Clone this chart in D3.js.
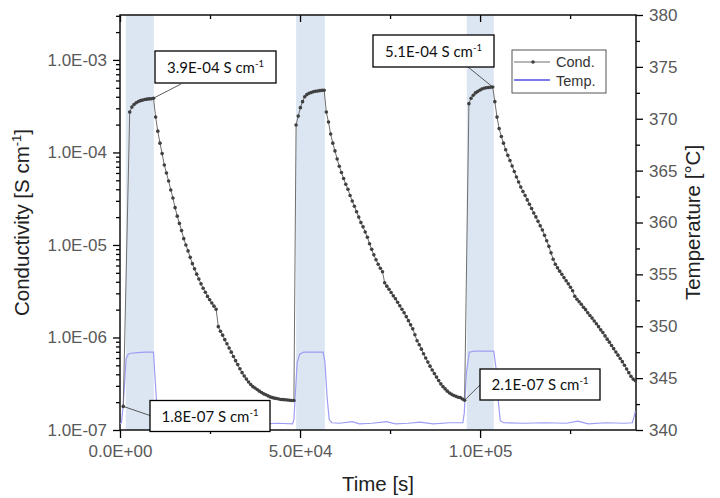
<!DOCTYPE html>
<html>
<head>
<meta charset="utf-8">
<script src="https://cdn.jsdelivr.net/npm/d3@7/dist/d3.min.js"></script>
<style>
    body { margin: 0; background: #fff; }
    svg { display: block; }
    .tick text { font-family: "Liberation Sans", Arial, sans-serif; font-size: 17px; fill: #595959; }
    .tick line { stroke: #000; stroke-width: 1.3px; }
    .title { font-family: "Liberation Sans", Arial, sans-serif; font-size: 20.5px; fill: #222; }
    .anno { font-family: Lato, "Open Sans", sans-serif; font-size: 15px; fill: #111; }
    .legend { font-family: "Liberation Sans", Arial, sans-serif; font-size: 14.5px; fill: #333; }
</style>
</head>
<body>
<div id="chart"></div>
<script>
(function () {

    var width = 720,
        height = 498,
        left = 120, right = 636, top = 15, bottom = 430;

    // conductivity, one reading every condStep seconds from condStart (null = no point)
    var condStart = 900,
        condStep = 600;
    var condValues = [
        1.8e-7, null, null, 2.73e-4, 3.09e-4, 3.30e-4, 3.44e-4, 3.55e-4, 3.63e-4, 3.68e-4,
        3.73e-4, 3.77e-4, 3.79e-4, 3.81e-4, 3.86e-4,
        2.41e-4, 1.70e-4, 1.26e-4, 9.72e-5, 7.31e-5, 6.00e-5, 4.91e-5, 3.93e-5, 3.22e-5, 2.53e-5,
        2.05e-5, 1.71e-5, 1.43e-5, 1.17e-5, 1.00e-5, 8.63e-6, 7.35e-6, 6.28e-6, 5.52e-6, 4.84e-6,
        4.28e-6, 3.80e-6, 3.40e-6, 3.08e-6, 2.78e-6, 2.56e-6, 2.36e-6, 2.18e-6, 2.02e-6,
        1.31e-6, 1.17e-6, 1.06e-6, 9.47e-7, 8.57e-7, 7.71e-7, 6.94e-7, 6.24e-7, 5.62e-7, 5.09e-7,
        4.60e-7, 4.17e-7, 3.83e-7, 3.55e-7, 3.30e-7, 3.10e-7, 2.94e-7, 2.84e-7, 2.74e-7, 2.63e-7,
        2.54e-7, 2.46e-7, 2.40e-7, 2.34e-7, 2.28e-7, 2.24e-7, 2.21e-7, 2.19e-7, 2.16e-7, 2.14e-7,
        2.13e-7, 2.12e-7, 2.11e-7, 2.10e-7, 2.08e-7, 2.08e-7,
        1.98e-4, 2.47e-4, 3.05e-4, 3.54e-4, 4.00e-4, 4.22e-4, 4.37e-4, 4.45e-4, 4.53e-4, 4.58e-4,
        4.62e-4, 4.66e-4, 4.69e-4, 4.71e-4,
        2.73e-4, 2.13e-4, 1.58e-4, 1.26e-4, 1.04e-4, 8.49e-5, 7.10e-5, 6.07e-5, 5.23e-5, 4.53e-5,
        4.00e-5, 3.43e-5, 2.99e-5, 2.62e-5, 2.29e-5, 2.00e-5, 1.75e-5, 1.57e-5, 1.38e-5, 1.21e-5,
        1.03e-5, 8.97e-6, 7.82e-6, 6.91e-6, 6.18e-6, 5.60e-6, 5.13e-6,
        3.90e-6, 3.59e-6, 3.32e-6, 3.06e-6, 2.82e-6, 2.62e-6, 2.40e-6, 2.20e-6, 2.02e-6, 1.85e-6,
        1.68e-6, 1.52e-6, 1.37e-6, 1.24e-6, 1.07e-6, 9.23e-7, 8.36e-7, 7.48e-7, 6.68e-7, 6.01e-7,
        5.42e-7, 4.90e-7, 4.46e-7, 4.07e-7, 3.73e-7, 3.42e-7, 3.15e-7, 2.94e-7, 2.78e-7, 2.63e-7,
        2.51e-7, 2.43e-7, 2.36e-7, 2.31e-7, 2.26e-7, 2.24e-7, 2.16e-7, 2.10e-7,
        null, 3.37e-4, 3.86e-4, 4.16e-4, 4.40e-4, 4.55e-4, 4.71e-4, 4.85e-4, 4.95e-4, 5.00e-4,
        5.04e-4, 5.07e-4, 5.10e-4,
        3.54e-4, 2.41e-4, 1.81e-4, 1.49e-4, 1.26e-4, 1.07e-4, 9.31e-5, 8.18e-5, 7.13e-5, 6.22e-5,
        5.43e-5, 4.80e-5, 4.24e-5, 3.79e-5, 3.43e-5, 3.07e-5, 2.76e-5, 2.48e-5, 2.22e-5, 2.01e-5,
        1.80e-5, 1.61e-5, 1.45e-5, 1.27e-5, 1.11e-5, 9.66e-6, 8.22e-6, 7.00e-6, 6.18e-6, 5.66e-6,
        5.21e-6, 4.82e-6, 4.44e-6, 4.10e-6, 3.80e-6, 3.49e-6, 3.20e-6, 2.79e-6, 2.59e-6, 2.43e-6,
        2.29e-6, 2.12e-6, 2.00e-6, 1.85e-6, 1.73e-6, 1.62e-6, 1.51e-6, 1.41e-6, 1.31e-6, 1.21e-6,
        1.13e-6, 1.04e-6, 9.59e-7, 8.90e-7, 8.20e-7, 7.57e-7, 6.98e-7, 6.44e-7, 5.93e-7, 5.48e-7,
        5.01e-7, 4.57e-7, 4.17e-7, 3.80e-7, 3.55e-7, 3.42e-7
    ];

    var tempTime = [
        0, 400, 900, 1700, 2300, 3000, 5000, 7000, 9300, 9700, 10300, 10800, 12000, 20000, 30000,
        40000, 44000, 47900, 48300, 48700, 49200, 49900, 51000, 56400, 56900, 57500, 58100, 58800,
        61000, 64500, 66500, 70000, 74000, 76500, 80000, 83300, 87000, 91500, 95200, 95600, 96200,
        97000, 98500, 103800, 104400, 105000, 105600, 106500, 112000, 118000, 124000, 127200,
        130000, 135000, 140000, 142300, 142700, 143100
    ];
    var tempValue = [
        340.6, 340.7, 342.4, 346.9, 347.3, 347.4, 347.45, 347.5, 347.5, 345.2, 342.0, 340.8, 340.65, 340.6, 340.7,
        340.6, 340.65, 340.6, 341.0, 343.5, 346.5, 347.3, 347.5, 347.5, 346.6, 343.2, 341.0, 340.7,
        340.65, 340.8, 340.6, 340.65, 340.8, 340.6, 340.65, 340.75, 340.6, 340.7, 340.7, 341.6, 345.5,
        347.5, 347.6, 347.6, 346.0, 343.0, 340.9, 340.7, 340.65, 340.7, 340.65, 340.85,
        340.6, 340.7, 340.65, 340.7, 341.2, 341.8
    ];

    // heating periods (shaded)
    var heatStart = [1600, 48900, 96300],
        heatEnd = [9400, 56900, 103800];

    var condTicks = [1e-7, 1e-6, 1e-5, 1e-4, 1e-3],
        timeTicks = [0, 50000, 100000],
        timeMinor = [25000, 75000, 125000],
        tempTicks = [340, 345, 350, 355, 360, 365, 370, 375, 380];

    var annoLabel = ["3.9E-04 S cm", "1.8E-07 S cm", "5.1E-04 S cm", "2.1E-07 S cm"],
        annoIndex = [14, 0, 171, 158];

    var x = d3.scaleLinear().domain([0, 143300]).range([left, right]);
    var y = d3.scaleLog().domain([1e-7, 3.06e-3]).range([bottom, top]);
    var yT = d3.scaleLinear().domain([340, 380]).range([bottom, top]);

    var cond = condValues.map(function (v, i) {
        return { t: condStart + i * condStep, v: v };
    });
    var condPts = cond.filter(function (d) { return d.v != null; });
    var temp = tempTime.map(function (t, i) { return { t: t, v: tempValue[i] }; });

    function sci(v) {
        var s = d3.format(".1e")(v).split("e");
        var e = +s[1];
        return s[0] + "E" + (e < 0 ? "-" : "+") + String(Math.abs(e)).padStart(2, "0");
    }

    var svg = d3.select("#chart").append("svg")
        .attr("width", width)
        .attr("height", height);

    // shaded bands
    svg.selectAll("rect.band")
        .data(heatStart).enter()
        .append("rect")
        .attr("class", "band")
        .attr("x", d => x(d))
        .attr("width", (d, i) => x(heatEnd[i]) - x(d))
        .attr("y", top)
        .attr("height", bottom - top)
        .attr("fill", "#dce6f2");

    // minor log ticks
    var condMinor = [];
    for (var e = -7; e <= -3; e++) {
        for (var m = 2; m <= 9; m++) {
            var v = m * Math.pow(10, e);
            if (v <= y.domain()[1]) condMinor.push(v);
        }
    }
    var tempMinor = d3.range(342.5, 380, 5);

    function axis(gen, tx, ty) {
        var g = svg.append("g").attr("transform", "translate(" + tx + "," + ty + ")").call(gen);
        g.select(".domain").remove();
        return g;
    }

    axis(d3.axisLeft(y).tickValues(condTicks).tickFormat(sci).tickSize(7).tickPadding(6), left, 0);
    axis(d3.axisLeft(y).tickValues(condMinor).tickFormat("").tickSize(4), left, 0);
    axis(d3.axisBottom(x).tickValues(timeTicks).tickFormat(sci).tickSize(8).tickPadding(7), 0, bottom);
    axis(d3.axisBottom(x).tickValues(timeMinor).tickFormat("").tickSize(4), 0, bottom);
    axis(d3.axisTop(x).tickValues(timeTicks).tickFormat("").tickSize(-7), 0, top);
    axis(d3.axisTop(x).tickValues(timeMinor).tickFormat("").tickSize(-4), 0, top);
    axis(d3.axisRight(yT).tickValues(tempTicks).tickFormat(d3.format("d")).tickSize(7).tickPadding(6), right, 0);
    axis(d3.axisRight(yT).tickValues(tempMinor).tickFormat("").tickSize(4), right, 0);

    // frame
    svg.append("rect")
        .attr("x", left).attr("y", top)
        .attr("width", right - left).attr("height", bottom - top)
        .attr("fill", "none")
        .attr("stroke", "#111")
        .attr("stroke-width", 1.5);

    // temperature
    svg.append("path")
        .datum(temp)
        .attr("fill", "none")
        .attr("stroke", "#9d9df4")
        .attr("stroke-width", 1.2)
        .attr("d", d3.line().x(d => x(d.t)).y(d => yT(d.v)));

    // conductivity
    svg.append("path")
        .datum(condPts)
        .attr("fill", "none")
        .attr("stroke", "#6e6e6e")
        .attr("stroke-width", 1)
        .attr("d", d3.line().x(d => x(d.t)).y(d => y(d.v)));
    svg.selectAll("circle.cond")
        .data(condPts).enter()
        .append("circle")
        .attr("class", "cond")
        .attr("cx", d => x(d.t))
        .attr("cy", d => y(d.v))
        .attr("r", 1.8)
        .attr("fill", "#404040");

    // annotation boxes
    var boxes = [
        { x: 155, y: 51, w: 121, h: 32, lx: 181, ly: 84 },
        { x: 150, y: 400.5, w: 120, h: 31, lx: 150, ly: 415.5 },
        { x: 373, y: 35, w: 121, h: 32, lx: 468, ly: 67 },
        { x: 480, y: 369, w: 120, h: 31, lx: 480, ly: 385 }
    ];
    boxes.forEach(function (b, i) {
        var p = cond[annoIndex[i]];
        svg.append("line")
            .attr("x1", b.lx).attr("y1", b.ly)
            .attr("x2", x(p.t)).attr("y2", y(p.v))
            .attr("stroke", "#333")
            .attr("stroke-width", 0.8);
        svg.append("rect")
            .attr("x", b.x).attr("y", b.y)
            .attr("width", b.w).attr("height", b.h)
            .attr("fill", "#fff")
            .attr("stroke", "#000")
            .attr("stroke-width", 1.3);
        var t = svg.append("text")
            .attr("class", "anno")
            .attr("x", b.x + b.w / 2)
            .attr("y", b.y + b.h / 2 + 5.5)
            .attr("text-anchor", "middle");
        t.append("tspan").text(annoLabel[i]);
        t.append("tspan").attr("dy", -6).style("font-size", "9.5px").text("-1");
    });

    // legend
    var lg = svg.append("g");
    lg.append("rect")
        .attr("x", 512).attr("y", 50).attr("width", 94).attr("height", 43)
        .attr("fill", "#fff").attr("stroke", "#555").attr("stroke-width", 1);
    lg.append("line").attr("x1", 514).attr("x2", 550).attr("y1", 62).attr("y2", 62)
        .attr("stroke", "#6e6e6e").attr("stroke-width", 1);
    lg.append("circle").attr("cx", 533).attr("cy", 62).attr("r", 1.8).attr("fill", "#404040");
    lg.append("line").attr("x1", 514).attr("x2", 550).attr("y1", 80).attr("y2", 80)
        .attr("stroke", "#7b7bec").attr("stroke-width", 2);
    lg.append("text").attr("class", "legend").attr("x", 556).attr("y", 67).text("Cond.");
    lg.append("text").attr("class", "legend").attr("x", 556).attr("y", 85.5).text("Temp.");

    // axis titles
    svg.append("text")
        .attr("class", "title")
        .attr("x", (left + right) / 2)
        .attr("y", 491)
        .attr("text-anchor", "middle")
        .text("Time [s]");

    var yl = svg.append("text")
        .attr("class", "title")
        .attr("transform", "translate(29," + (top + bottom) / 2 + ") rotate(-90)")
        .attr("text-anchor", "middle");
    yl.append("tspan").text("Conductivity [S cm");
    yl.append("tspan").attr("dy", -8).style("font-size", "13px").text("-1");
    yl.append("tspan").attr("dy", 8).text("]");

    svg.append("text")
        .attr("class", "title")
        .attr("transform", "translate(700," + (top + bottom) / 2 + ") rotate(-90)")
        .attr("text-anchor", "middle")
        .text("Temperature [°C]");

})();
</script>
</body>
</html>
